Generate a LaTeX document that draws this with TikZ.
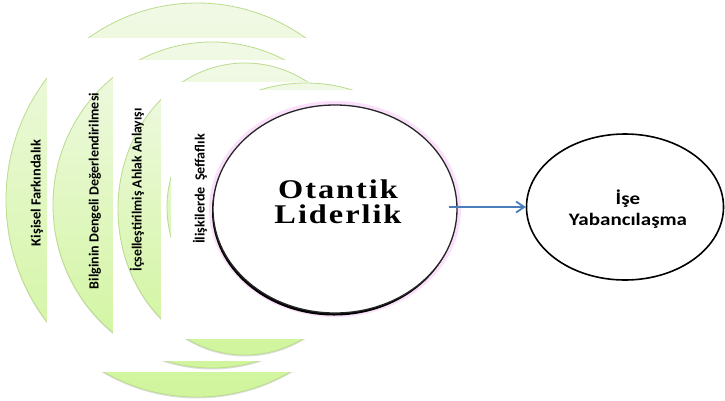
\documentclass[tikz,border=0pt]{standalone}
\usepackage{fontspec}
\setmainfont{Carlito}
\newfontfamily\titlefont[LetterSpace=6]{Liberation Serif}
\usetikzlibrary{shapes.geometric,arrows.meta,shadows}

\definecolor{leaftop}{RGB}{241,249,230}
\definecolor{leafbot}{RGB}{208,245,156}
\definecolor{leafline}{RGB}{186,220,140}
\definecolor{glowpink}{RGB}{250,224,250}
\definecolor{arrowblue}{RGB}{74,126,187}

\tikzset{
  leaf/.style={top color=leaftop, bottom color=leafbot, draw=leafline, line width=0.8pt,
    drop shadow={opacity=0.25, shadow xshift=0pt, shadow yshift=-1.5pt}},
  mask/.style={fill=white},
  strip/.style={rotate=90, inner sep=0pt, font=\fontsize{14}{14}\bfseries\selectfont},
  mainnode/.style={ellipse, draw=black!85, line width=1.3pt, fill=white,
    minimum width=244pt, minimum height=208pt, inner sep=0pt,
    preaction={draw=glowpink, line width=8pt},
    drop shadow={shadow xshift=-1pt, shadow yshift=-2.5pt, opacity=1, fill=black}},
  sidenode/.style={ellipse, draw=black, line width=1.6pt, fill=white,
    minimum width=197pt, minimum height=146pt, inner sep=0pt},
  link/.style={draw=arrowblue, line width=1.8pt, -{Straight Barb[length=8pt,width=11pt]}}
}

\begin{document}
\begin{tikzpicture}[x=1pt,y=-1pt]
\useasboundingbox (0,0) rectangle (725,400);

% rings, each cut by a white panel
\path[leaf] (197,200) ellipse [x radius=191, y radius=197];
\fill[mask] (47,38) rectangle (470,372);
\path[leaf] (212,205) ellipse [x radius=159, y radius=163];
\fill[mask] (113,60) rectangle (470,361);
\path[leaf] (245,209) ellipse [x radius=127, y radius=146];
\fill[mask] (161,82) rectangle (470,339);
\path[leaf] (306,207) ellipse [x radius=139, y radius=124];
\fill[mask] (171,90) rectangle (470,339);

\node[strip, xscale=1.03] (kisisel) at (37,193) {Kişisel Farkındalık};
\node[strip] (bilgi) at (95,191) {Bilginin Dengeli Değerlendirilmesi};
\node[strip, xscale=0.98] (icsel) at (137,190) {İçselleştirilmiş Ahlak Anlayışı};
\node[strip, xscale=1.01] (seffaf) at (200,189) {İlişkilerde\hspace{3pt} Şeffaflık};

% centre and outcome
\node[mainnode] (otantik) at (335,209) {};
\node[align=center, inner sep=0pt, xscale=1.2, font=\titlefont\bfseries\fontsize{27}{25}\selectfont]
  (otantiklbl) at (338,202) {Otantik\\Liderlik};

\node[sidenode] (yabanci) at (625,207) {};
\node[align=center, inner sep=0pt, xscale=1.2, font=\fontsize{17.5}{21}\bfseries\selectfont]
  (yabancilbl) at (628,209) {İşe\\Yabancılaşma};

\draw[link] ([xshift=-9pt]otantik.east |- yabanci.west) -- (yabanci.west);

\end{tikzpicture}
\end{document}
